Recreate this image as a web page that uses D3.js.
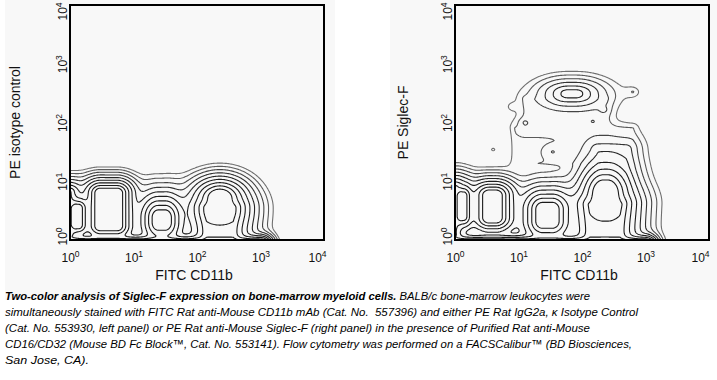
<!DOCTYPE html>
<html><head><meta charset="utf-8">
<script src="https://cdn.jsdelivr.net/npm/d3@7"></script>
<style>
body{margin:0;background:#fff;}
svg{display:block;font-family:"Liberation Sans",Arial,Helvetica,sans-serif;}
</style>
</head><body>
<svg id="chart" width="717" height="380"></svg>
<script>
// ---------- data ----------
const tickValues = [1, 10, 100, 1000, 10000];
const tickExponents = ["0", "1", "2", "3", "4"];
const xTitle = "FITC CD11b";
const yTitles = ["PE isotype control", "PE Siglec-F"];
// contour thresholds (relative event density, 2x steps)
const contourLevels = [1, 2, 4, 8, 16, 32, 64, 128, 256];
// cell populations: [x0, x1, y0, y1 (core, log10 decades), weight, spreadX, spreadY]
const isotypePopulations = [
  [-0.3, 0.0, 0.1, 0.82, 150, 0.07, 0.07],
  [0.1, 0.14, 0.26, 0.54, 700, 0.05, 0.06],
  [0.48, 0.74, 0.24, 0.8, 900, 0.07, 0.065],
  [1.39, 1.5, 0.3, 0.38, 850, 0.08, 0.11],
  [2.36, 2.36, 0.52, 0.72, 1550, 0.1, 0.08],
  [2.15, 2.57, -0.2, 0.55, 200, 0.11, 0.08],
  [-0.5, 3.0, -1, -0.08, 2000, 0.04, 0.035]
];
const siglecPopulations = [
  [-0.3, 0.0, 0.1, 0.9, 150, 0.07, 0.08],
  [0.1, 0.14, 0.4, 0.75, 600, 0.05, 0.07],
  [0.54, 0.64, 0.38, 0.76, 940, 0.08, 0.07],
  [1.38, 1.53, 0.32, 0.52, 850, 0.09, 0.1],
  [2.34, 2.4, 0.72, 0.8, 1550, 0.09, 0.12],
  [2.12, 2.6, -0.2, 0.6, 200, 0.12, 0.1],
  [2.25, 2.7, 0.9, 1.55, 10, 0.13, 0.12],
  [-0.5, 3.0, -1, -0.08, 2000, 0.04, 0.035],
  [1.78, 1.9, 2.48, 2.5, 60, 0.17, 0.09],
  [0.95, 2.8, 1.3, 1.9, 1.6, 0.1, 0.1],
  [1.1, 2.4, 1.9, 2.4, 1.6, 0.1, 0.1],
  [1.54, 1.54, 1.5, 1.5, 3, 0.08, 0.06],
  [1.1, 1.1, 2.0, 2.0, 3, 0.08, 0.06],
  [2.8, 2.8, 2.52, 2.52, 2, 0.1, 0.08],
  [2.34, 2.34, 2.21, 2.21, 3, 0.06, 0.05],
  [2.17, 2.17, 2.02, 2.02, 2.5, 0.04, 0.03],
  [0.6, 0.6, 1.54, 1.54, 1.4, 0.06, 0.05],
  [0.9, 0.9, 2.27, 2.27, 1.6, 0.07, 0.06]
];
const captionBold = "Two-color analysis of Siglec-F expression on bone-marrow myeloid cells.";
const captionLines = [
  " BALB/c bone-marrow leukocytes were",
  "simultaneously stained with FITC Rat anti-Mouse CD11b mAb (Cat. No.  557396) and either PE Rat IgG2a, \u03ba Isotype Control",
  "(Cat. No. 553930, left panel) or PE Rat anti-Mouse Siglec-F (right panel) in the presence of Purified Rat anti-Mouse",
  "CD16/CD32 (Mouse BD Fc Block\u2122, Cat. No. 553141). Flow cytometry was performed on a FACSCalibur\u2122 (BD Biosciences,",
  "San Jose, CA)."
];
const captionWidths = [585, 633, 585, 627, 84];

// ---------- layout ----------
const svg = d3.select("#chart");
const panels = [
  {x0: 70, x1: 324, pops: isotypePopulations, title: yTitles[0], titleX: 20, bg: [5, 335]},
  {x0: 455, x1: 709, pops: siglecPopulations, title: yTitles[1], titleX: 408, bg: [390, 717]}
];
const plotTop = 5, plotBottom = 240;
const levelColors = ["#707070", "#5a5a5a", "#444", "#333", "#262626", "#1e1e1e", "#1a1a1a", "#1a1a1a", "#1a1a1a"];

panels.forEach(p => {
  svg.append("rect").attr("x", p.bg[0]).attr("y", 0).attr("width", p.bg[1] - p.bg[0]).attr("height", 300).attr("fill", "#f8f8f8");
});

const N = 256;
panels.forEach((p, pi) => {
  const x = d3.scaleLog().domain([1, 1e4]).range([p.x0, p.x1]);
  const y = d3.scaleLog().domain([1, 1e4]).range([plotBottom, plotTop]);
  const dec = 4;
  const values = new Float64Array(N * N);
  for (let j = 0; j < N; j++) {
    const ly = (j + 0.5) / N * dec;
    for (let i = 0; i < N; i++) {
      const lx = (i + 0.5) / N * dec;
      let s = 0;
      for (const [a0, a1, b0, b1, w, sx, sy] of p.pops) {
        const dx = Math.max(a0 - lx, 0, lx - a1) / sx;
        const dy = Math.max(b0 - ly, 0, ly - b1) / sy;
        s += w * Math.exp(-Math.sqrt(dx * dx + dy * dy));
      }
      values[i + j * N] = s;
    }
  }
  const contours = d3.contours().size([N, N]).thresholds(contourLevels)(values);
  const proj = d3.geoTransform({
    point(cx, cy) { this.stream.point(x(Math.pow(10, cx / N * dec)), y(Math.pow(10, cy / N * dec))); }
  });
  const path = d3.geoPath(proj);
  const clipId = "clip" + pi;
  svg.append("clipPath").attr("id", clipId).append("rect")
    .attr("x", p.x0).attr("y", plotTop).attr("width", p.x1 - p.x0).attr("height", plotBottom - plotTop);
  svg.append("g").attr("clip-path", `url(#${clipId})`)
    .selectAll("path").data(contours).join("path")
    .attr("d", path).attr("fill", "none")
    .attr("stroke", (d, k) => levelColors[k])
    .attr("stroke-width", 1.1).attr("stroke-linejoin", "round");
  // frame
  svg.append("rect").attr("x", p.x0).attr("y", plotTop).attr("width", p.x1 - p.x0).attr("height", plotBottom - plotTop)
    .attr("fill", "none").attr("stroke", "#000").attr("stroke-width", 2);

  // x axis labels
  const gx = svg.append("g").attr("transform", `translate(0,${plotBottom})`)
    .call(d3.axisBottom(x).tickValues(tickValues).tickSize(0).tickFormat(() => ""));
  gx.select(".domain").remove();
  gx.selectAll(".tick text").each(function (d, k) {
    const t = d3.select(this).attr("y", 22).attr("dy", null).attr("fill", "#111").attr("font-size", 12)
      .attr("x", k === 4 ? (pi === 0 ? -7 : -9) : 0).attr("text-anchor", "middle");
    t.append("tspan").text("10");
    t.append("tspan").attr("dy", -5).attr("font-size", 8.5).text(tickExponents[k]);
  });
  // y axis labels (rotated)
  const gy = svg.append("g").attr("transform", `translate(${p.x0},0)`)
    .call(d3.axisLeft(y).tickValues(tickValues).tickSize(0).tickFormat(() => ""));
  gy.select(".domain").remove();
  gy.selectAll(".tick text").each(function (d, k) {
    const shift = k === 0 ? -4 : (k === 4 ? 6 : 0);
    const t = d3.select(this).attr("x", null).attr("dy", null).attr("y", null)
      .attr("transform", `translate(-3,${shift}) rotate(-90)`)
      .attr("text-anchor", "middle").attr("fill", "#111").attr("font-size", 12);
    t.append("tspan").text("10");
    t.append("tspan").attr("dy", -5).attr("font-size", 8.5).text(tickExponents[k]);
  });
  // titles
  svg.append("text").attr("x", (p.x0 + p.x1) / 2 - 3).attr("y", 280).attr("text-anchor", "middle")
    .attr("font-size", 14).attr("fill", "#111").text(xTitle);
  svg.append("text").attr("transform", `translate(${p.titleX},${(plotTop + plotBottom) / 2}) rotate(-90)`)
    .attr("text-anchor", "middle").attr("font-size", 14).attr("fill", "#111").text(p.title);
});

// caption
const cap = svg.append("g").attr("font-size", 11.5).attr("font-style", "italic").attr("fill", "#000");
captionLines.forEach((line, k) => {
  const t = cap.append("text").attr("x", 5).attr("y", 300 + k * 16)
    .attr("textLength", captionWidths[k]).attr("lengthAdjust", "spacingAndGlyphs")
    .style("white-space", "pre");
  if (k === 0) t.append("tspan").attr("font-weight", "bold").text(captionBold);
  t.append("tspan").text(line);
});
</script>
</body></html>
